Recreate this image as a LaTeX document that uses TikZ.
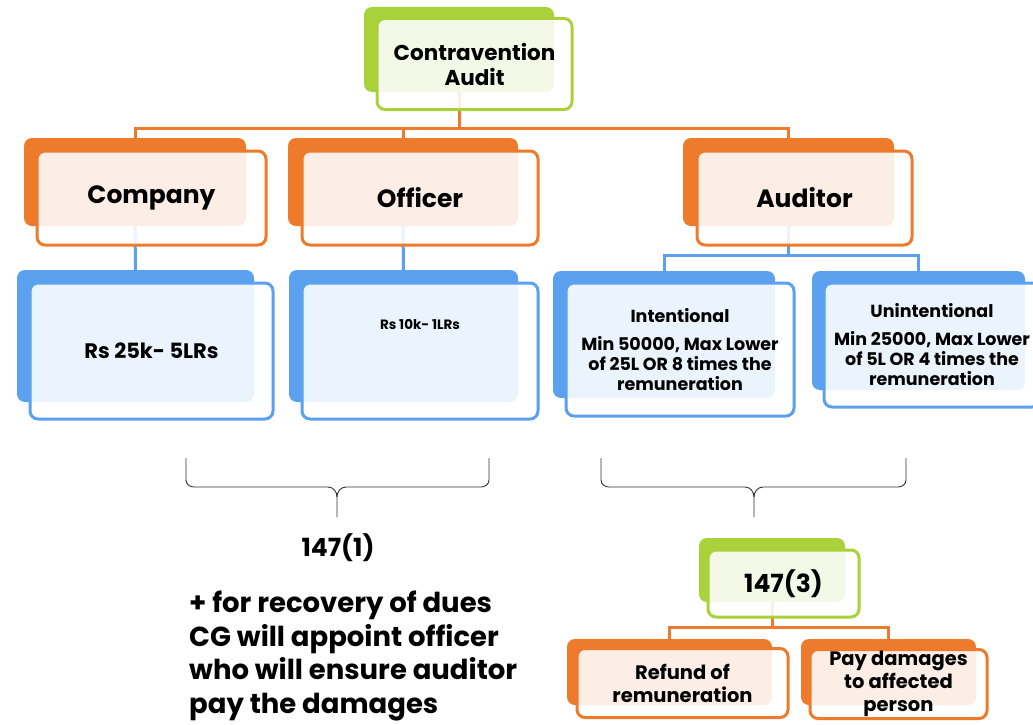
\documentclass[tikz,border=0pt]{standalone}
\usepackage{fontspec}
\setmainfont{Poppins}
\usepackage{xcolor}
\usetikzlibrary{calc, positioning}

\definecolor{cgreen}{HTML}{A9D13A}
\definecolor{corange}{HTML}{EE7B2B}
\definecolor{cblue}{HTML}{5CA0F0}

\tikzset{
    backbox/.style={fill=#1, rounded corners=8pt, inner sep=0pt},
    frontbox/.style={draw=#1, line width=3pt, fill=white, fill opacity=0.88, text opacity=1,
        rounded corners=8pt, inner sep=0pt, align=center, font=\bfseries},
    link/.style={draw=#1, line width=3pt},
    bracket/.style={draw=black!80, line width=0.9pt}
}

\begin{document}
\begin{tikzpicture}[x=1pt, y=-1pt]
    \useasboundingbox (0,0) rectangle (1033,725);

    % Khối nền phía sau
    \node[backbox=cgreen, minimum width=190, minimum height=85] (topB) at (459,49.5) {};
    \node[backbox=corange, minimum width=222, minimum height=88] (companyB) at (135,182) {};
    \node[backbox=corange, minimum width=230, minimum height=88] (officerB) at (403,182) {};
    \node[backbox=corange, minimum width=211, minimum height=88] (auditorB) at (788.5,182) {};
    \node[backbox=cblue, minimum width=237, minimum height=132] (companyAmtB) at (135.5,336) {};
    \node[backbox=cblue, minimum width=229, minimum height=132] (officerAmtB) at (403.5,336) {};
    \node[backbox=cblue, minimum width=222, minimum height=127] (intentB) at (664,334.5) {};
    \node[backbox=cblue, minimum width=213, minimum height=119] (unintentB) at (918.5,330.5) {};
    \node[backbox=cgreen, minimum width=146, minimum height=64] (secThreeB) at (772,570) {};
    \node[backbox=corange, minimum width=205, minimum height=66] (refundB) at (669.5,672) {};
    \node[backbox=corange, minimum width=175, minimum height=66] (payB) at (888.5,672) {};

    % Đường nối
    \draw[link=corange] (topB.south) -- ++(0,36) -| (companyB.north);
    \draw[link=corange] (topB.south) -- ++(0,36) -| (officerB.north);
    \draw[link=corange] (topB.south) -- ++(0,36) -| (auditorB.north);
    \draw[link=cblue] (companyB.south) -- (companyAmtB.north);
    \draw[link=cblue] (officerB.south) -- (officerAmtB.north);
    \draw[link=cblue] (auditorB.south) -- ++(0,29) -| (intentB.north);
    \draw[link=cblue] (auditorB.south) -- ++(0,29) -| (unintentB.north);
    \draw[link=corange] (secThreeB.south) -- ++(0,25) -| (refundB.north);
    \draw[link=corange] (secThreeB.south) -- ++(0,25) -| (payB.north);

    % Khối phía trước
    \node[frontbox=cgreen, minimum width=195, minimum height=91, font=\bfseries\fontsize{21.5}{25}\selectfont]
        (top) at (474.5,64) {Contravention\\Audit};
    \node[frontbox=corange, minimum width=229, minimum height=94, font=\bfseries\fontsize{25}{28}\selectfont]
        (company) at (151.5,198) {Company};
    \node[frontbox=corange, minimum width=236, minimum height=94, font=\bfseries\fontsize{25}{28}\selectfont]
        (officer) at (420,198) {Officer};
    \node[frontbox=corange, minimum width=215, minimum height=94, font=\bfseries\fontsize{25}{28}\selectfont]
        (auditor) at (804.5,198) {Auditor};
    \node[frontbox=cblue, minimum width=243, minimum height=136, font=\bfseries\fontsize{21}{24}\selectfont]
        (companyAmt) at (151.5,351) {Rs 25k- 5LRs};
    \node[frontbox=cblue, minimum width=236, minimum height=136] (officerAmt) at (420,351) {};
    \node[font=\bfseries\fontsize{13.5}{16}\selectfont] (officerRs) at (420,325) {Rs 10k- 1LRs};
    \node[frontbox=cblue, minimum width=228, minimum height=133, font=\bfseries\fontsize{17.5}{20}\selectfont]
        (intent) at (680,349.5) {Intentional\\[8pt]Min 50000, Max Lower\\of 25L OR 8 times the\\remuneration};
    \node[frontbox=cblue, minimum width=216, minimum height=124, font=\bfseries\fontsize{17.5}{20}\selectfont]
        (unintent) at (932,345) {Unintentional\\[8pt]Min 25000, Max Lower\\of 5L OR 4 times the\\remuneration};

    % Dấu ngoặc
    \draw[bracket] (186,458) -- (186,480) to[out=-90,in=180] (194,487) -- (328,487)
        to[out=0,in=90] (337,497) -- (337,517);
    \draw[bracket] (337,497) to[out=90,in=180] (346,487) -- (481,487)
        to[out=0,in=-90] (489,480) -- (489,458);
    \draw[bracket] (601,458) -- (601,480) to[out=-90,in=180] (609,487) -- (745,487)
        to[out=0,in=90] (754,497) -- (754,517);
    \draw[bracket] (754,497) to[out=90,in=180] (763,487) -- (898,487)
        to[out=0,in=-90] (906,480) -- (906,458);

    \node[font=\bfseries\fontsize{25}{28}\selectfont] (secOne) at (338,548) {147(1)};
    \node[anchor=west, align=left, inner sep=0pt, font=\bfseries\fontsize{27.5}{33.5}\selectfont]
        (recovery) at (189,656) {+ for recovery of dues\\CG will appoint officer\\who will ensure auditor\\pay the damages};

    \node[frontbox=cgreen, minimum width=151, minimum height=67, font=\bfseries\fontsize{25}{28}\selectfont]
        (secThree) at (783.5,583.5) {147(3)};
    \node[frontbox=corange, minimum width=211, minimum height=69, font=\bfseries\fontsize{19.5}{23}\selectfont]
        (refund) at (682.5,683) {Refund of\\remuneration};
    \node[frontbox=corange, minimum width=177, minimum height=69, font=\bfseries\fontsize{19.5}{23}\selectfont]
        (pay) at (898.5,684) {Pay damages\\to affected\\person};
\end{tikzpicture}
\end{document}
